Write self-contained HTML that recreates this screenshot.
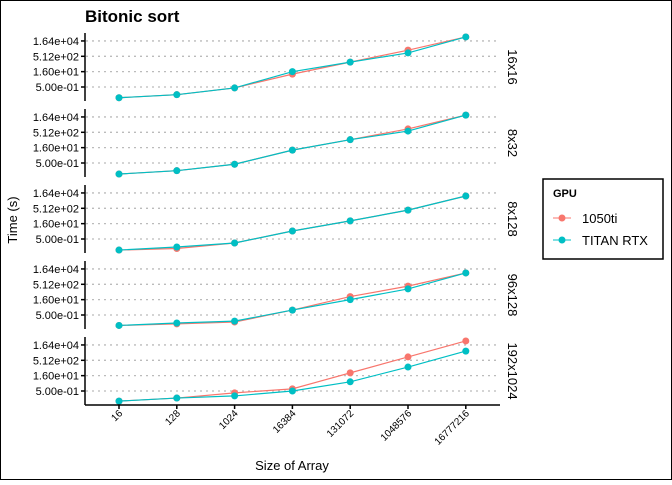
<!DOCTYPE html>
<html><head><meta charset="utf-8"><style>
body{margin:0;background:#fff}
svg text{font-family:"Liberation Sans",sans-serif}
</style></head><body>
<svg id="c" width="672" height="480" xmlns="http://www.w3.org/2000/svg">
<rect x="0.5" y="0.5" width="671" height="479" fill="#fff" stroke="#000"/>
<text x="85" y="22" font-size="17" font-weight="bold">Bitonic sort</text>
<text transform="translate(17,220) rotate(-90)" text-anchor="middle" font-size="13">Time (s)</text>
<text x="292" y="470" text-anchor="middle" font-size="13">Size of Array</text>
<g>
<rect x="543" y="179" width="120" height="80" fill="#fff" stroke="#000" stroke-width="1.5"/>
<text x="553" y="197" font-size="11" font-weight="bold">GPU</text>
<g><line x1="553" x2="571" y1="218" y2="218" stroke="#F8766D"/><circle cx="562" cy="218" r="3.5" fill="#F8766D"/><text x="582" y="223" font-size="13">1050ti</text></g>
<g><line x1="553" x2="571" y1="240" y2="240" stroke="#00BFC4"/><circle cx="562" cy="240" r="3.5" fill="#00BFC4"/><text x="582" y="245" font-size="13">TITAN RTX</text></g>
</g>
</svg>
<script>
const categories=["16","128","1024","16384","131072","1048576","16777216"];
const panels=["16x16","8x32","8x128","96x128","192x1024"];
const tickValues=[-1,4,9,14];
const tickLabels=["5.00e-01","1.60e+01","5.12e+02","1.64e+04"];
// log2 of time in seconds
const s1050ti=[
[-4.5,-3.5,-1.3,3.2,7.1,11.0,15.3],
[-4.6,-3.5,-1.4,3.2,6.6,10.1,14.6],
[-4.6,-4.1,-2.3,1.6,4.9,8.4,13.0],
[-4.4,-3.9,-3.3,0.6,5.0,8.4,12.7],
[-4.3,-3.3,-1.6,-0.3,4.9,10.1,15.3]];
const sTitan=[
[-4.5,-3.5,-1.3,4.0,7.1,10.1,15.3],
[-4.6,-3.5,-1.4,3.2,6.6,9.4,14.6],
[-4.6,-3.6,-2.3,1.6,4.9,8.4,13.0],
[-4.4,-3.6,-3.0,0.6,4.0,7.5,12.7],
[-4.3,-3.3,-2.6,-1.0,2.0,6.8,12.0]];
const NS="http://www.w3.org/2000/svg";
const svg=document.getElementById('c');
function mk(t,a,p){const e=document.createElementNS(NS,t);for(const k in a)e.setAttribute(k,a[k]);(p||svg).appendChild(e);return e;}
const xScale=i=>119+i*57.8;
const yScale=(p,v)=>87+p*76-(v+1)*3.07;
panels.forEach((pn,p)=>{
  const g=mk('g',{});
  
  
  const y0=87+p*76;
  tickValues.forEach((tv,k)=>{
    const y=yScale(p,tv);
    const gl=mk('line',{x1:86,x2:500,y1:y,y2:y,stroke:'#bbb','stroke-width':1.3,'stroke-dasharray':'2,4'},g);
    
    
    mk('line',{x1:81,x2:85,y1:y,y2:y,stroke:'#000','stroke-width':1.5},g);
    const t=mk('text',{x:79,y:y+4,'text-anchor':'end','font-size':11},g);
    t.textContent=tickLabels[k];
    
    
  });
  const ax=mk('line',{x1:85,x2:85,y1:y0-54,y2:y0+14,stroke:'#000','stroke-width':1.5},g);
  
  
  const st=mk('text',{transform:`translate(508,${y0-20}) rotate(90)`,'text-anchor':'middle','font-size':13},g);
  st.textContent=pn;
  
  
  [[s1050ti,'#F8766D','1050ti'],[sTitan,'#00BFC4','titan-rtx']].forEach(([s,c,n])=>{
    const pts=s[p].map((v,i)=>xScale(i)+','+yScale(p,v)).join(' ');
    const l=mk('polyline',{points:pts,fill:'none',stroke:c,'stroke-width':1.2},g);
    
    
    s[p].forEach((v,i)=>{
      const ci=mk('circle',{cx:xScale(i),cy:yScale(p,v),r:3.5,fill:c},g);
      
      
    });
  });
});
const xa=mk('line',{x1:85,x2:500,y1:405,y2:405,stroke:'#000','stroke-width':1.5});


categories.forEach((c,i)=>{
  const x=xScale(i);
  mk('line',{x1:x,x2:x,y1:405,y2:409,stroke:'#000','stroke-width':1.5});
  const t=mk('text',{transform:`translate(${x+4},${414}) rotate(-45)`,'text-anchor':'end','font-size':10});
  t.textContent=c;
  
  
});
</script>
</body></html>
